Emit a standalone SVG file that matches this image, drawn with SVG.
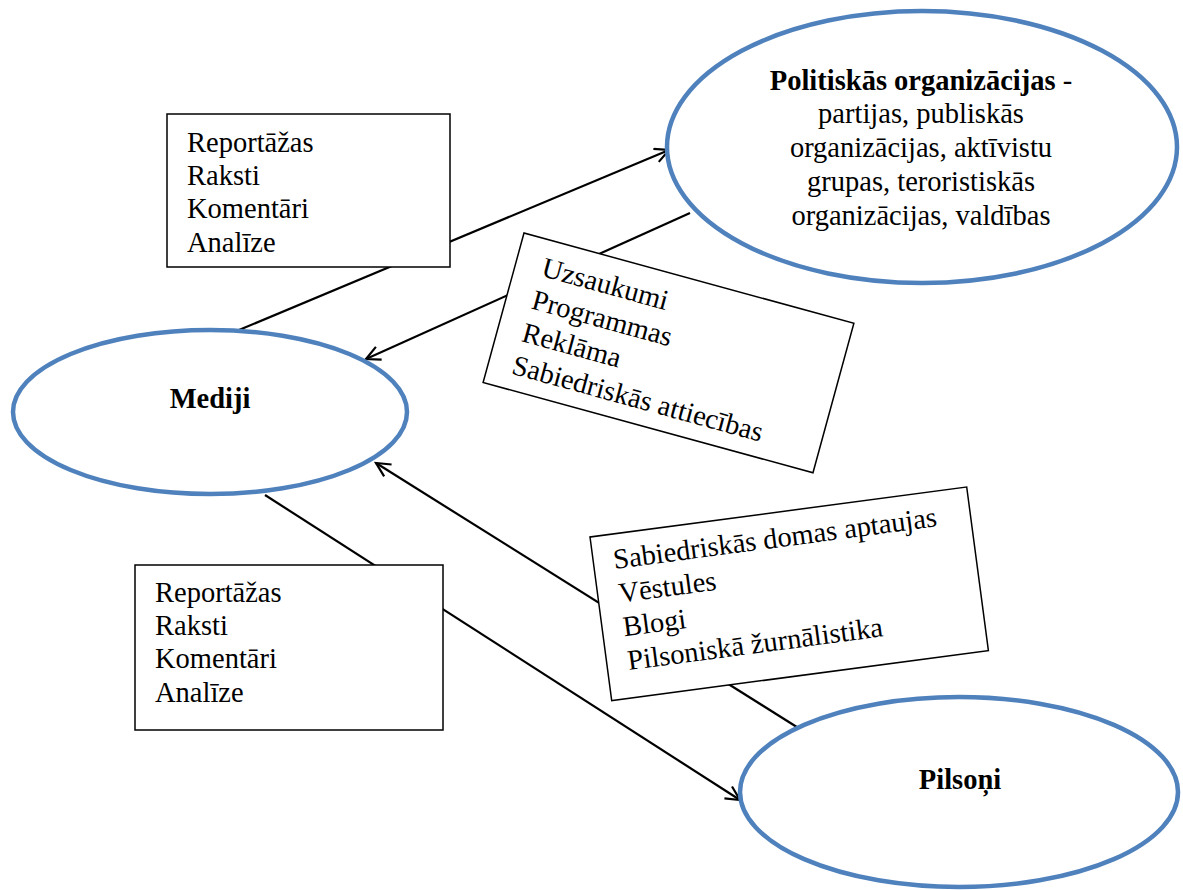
<svg xmlns="http://www.w3.org/2000/svg" width="1183" height="890" viewBox="0 0 1183 890">
<style>
  text { font-family: "Liberation Serif", "Times New Roman", serif; font-size: 28.5px; fill: #000; }
  .b { font-weight: bold; }
  .ell { fill: #fff; stroke: #4F81BD; stroke-width: 4.5; }
  .box { fill: #fff; stroke: #000; stroke-width: 1.5; }
  .conn { stroke: #000; stroke-width: 2.2; fill: none; }
</style>
<defs>
  <marker id="arr" markerUnits="userSpaceOnUse" viewBox="0 0 18 18" markerWidth="18" markerHeight="18" refX="15" refY="8" orient="auto">
    <path d="M1,1 L15,8 L1,15" fill="none" stroke="#000" stroke-width="2.2"/>
  </marker>
</defs>
<rect width="1183" height="890" fill="#fff"/>
<g id="connectors">
  <line class="conn" x1="239" y1="330" x2="669" y2="150" marker-end="url(#arr)"/>
  <line class="conn" x1="690" y1="213" x2="366" y2="359" marker-end="url(#arr)"/>
  <line class="conn" x1="800" y1="729" x2="376" y2="463" marker-end="url(#arr)"/>
  <line class="conn" x1="265" y1="495" x2="740" y2="800" marker-end="url(#arr)"/>
</g>
<g id="box-media-to-politics">
  <rect class="box" x="167" y="114" width="283" height="153"/>
  <text x="187" y="152">Reportāžas</text>
  <text x="187" y="185">Raksti</text>
  <text x="187" y="218">Komentāri</text>
  <text x="187" y="252">Analīze</text>
</g>
<g id="box-politics-to-media" transform="translate(524,233) rotate(15.3)">
  <rect class="box" x="0" y="0" width="342" height="155"/>
  <text x="27" y="37">Uzsaukumi</text>
  <text x="26" y="71">Programmas</text>
  <text x="25" y="105">Reklāma</text>
  <text x="24" y="139">Sabiedriskās attiecības</text>
</g>
<g id="box-citizens-to-media" transform="translate(590,537) rotate(-7.56)">
  <rect class="box" x="0" y="0" width="380" height="165"/>
  <text x="20" y="35">Sabiedriskās domas aptaujas</text>
  <text x="21" y="69">Vēstules</text>
  <text x="21" y="103">Blogi</text>
  <text x="21" y="137">Pilsoniskā žurnālistika</text>
</g>
<g id="box-media-to-citizens">
  <rect class="box" x="135" y="565" width="308" height="165"/>
  <text x="155" y="602">Reportāžas</text>
  <text x="155" y="635">Raksti</text>
  <text x="155" y="668">Komentāri</text>
  <text x="155" y="702">Analīze</text>
</g>
<g id="node-politiskas">
  <ellipse class="ell" cx="922" cy="147" rx="255" ry="136"/>
  <text x="921" y="90" text-anchor="middle"><tspan class="b">Politiskās organizācijas</tspan> -</text>
  <text x="921" y="123" text-anchor="middle">partijas, publiskās</text>
  <text x="921" y="157" text-anchor="middle">organizācijas, aktīvistu</text>
  <text x="921" y="191" text-anchor="middle">grupas, teroristiskās</text>
  <text x="921" y="225" text-anchor="middle">organizācijas, valdības</text>
</g>
<g id="node-mediji">
  <ellipse class="ell" cx="210" cy="412" rx="197" ry="82"/>
  <text class="b" x="210" y="408" text-anchor="middle">Mediji</text>
</g>
<g id="node-pilsoni">
  <ellipse class="ell" cx="959" cy="792" rx="219" ry="95"/>
  <text class="b" x="960" y="789" text-anchor="middle">Pilsoņi</text>
</g>
</svg>
